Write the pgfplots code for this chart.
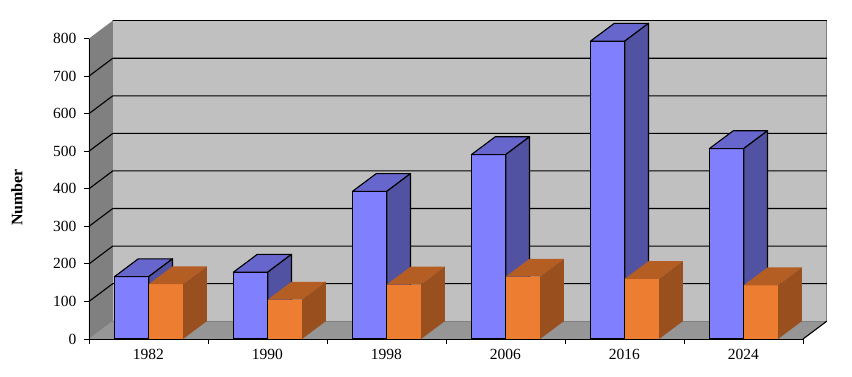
\documentclass[border=0pt]{standalone}
\usepackage{pgfplots}
\pgfplotsset{compat=1.18}
\usepackage{pgfplotstable}
\usepackage{fontspec}
\setmainfont{Liberation Serif}

\definecolor{bluefront}{HTML}{8080FF}
\definecolor{bluetop}{HTML}{6666CC}
\definecolor{blueside}{HTML}{5252A3}
\definecolor{orfront}{HTML}{ED7D31}
\definecolor{ortop}{HTML}{B55E24}
\definecolor{orside}{HTML}{9A4F1F}
\definecolor{backwall}{HTML}{C0C0C0}
\definecolor{sidewall}{HTML}{808080}
\definecolor{floorc}{HTML}{969696}

\pgfplotstableread{
idx year blue orange
0 1982 166 146
1 1990 178 105
2 1998 393 145
3 2006 491 166
4 2016 793 160
5 2024 507 143
}\datatable

\newcommand\dX{0.2}
\newcommand\dY{47.4}
\newcommand\bw{0.288}

\newcommand{\cube}[7]{%
  \pgfplotstablegetelem{#1}{#2}\of\datatable
  \pgfmathsetmacro\hh{\pgfplotsretval}%
  \pgfmathsetmacro\xa{#1+#3}%
  \pgfmathsetmacro\xb{#1+#3+\bw}%
  \pgfmathsetmacro\xc{#1+#3+\dX}%
  \pgfmathsetmacro\xd{#1+#3+\bw+\dX}%
  \pgfmathsetmacro\hb{\hh+\dY}%
  \edef\cubetemp{%
    \noexpand\addplot[mark=none, fill=#4, draw=#7, line width=1.1pt, line join=round] coordinates {(\xa,0) (\xb,0) (\xb,\hh) (\xa,\hh)} -- cycle;
    \noexpand\addplot[mark=none, fill=#5, draw=#7, line width=1.1pt, line join=round] coordinates {(\xa,\hh) (\xb,\hh) (\xd,\hb) (\xc,\hb)} -- cycle;
    \noexpand\addplot[mark=none, fill=#6, draw=#7, line width=1.1pt, line join=round] coordinates {(\xb,0) (\xd,\dY) (\xd,\hb) (\xb,\hh)} -- cycle;
  }\cubetemp
}

\newcommand\gridline[1]{%
  \pgfmathsetmacro\gy{#1+\dY}%
  \edef\gtemp{\noexpand\addplot[mark=none, black, line width=1.1pt] coordinates {(0,#1) (\dX,\gy) (6.2,\gy)};}\gtemp}

\begin{document}
\begin{tikzpicture}
\begin{axis}[
  at={(0,0)}, anchor=origin,
  scale only axis, width=714pt, height=300.5pt,
  xmin=0, xmax=6, ymin=0, ymax=800,
  clip=false, axis on top,
  axis lines=left,
  axis line style={-, black, line width=0.9pt},
  tick style={black, line width=0.9pt},
  tick align=outside, major tick length=5pt,
  xtick={0,1,2,3,4,5,6},
  xticklabels={1982,1990,1998,2006,2016,2024},
  x tick label as interval,
  ytick={0,100,...,800},
  /pgf/number format/assume math mode=true,
  tick label style={font=\fontsize{15.5}{18}\selectfont},
  yticklabel style={xshift=-4pt},
  xticklabel style={yshift=-2pt},
]
% walls
\addplot[mark=none, fill=floorc, draw=none] coordinates {(0,0) (6,0) (6.2,47.4) (0.2,47.4)} -- cycle;
\addplot[mark=none, fill=sidewall, draw=none] coordinates {(0,0) (0.2,47.4) (0.2,847.4) (0,800)} -- cycle;
\addplot[mark=none, fill=backwall, draw=sidewall, line width=0.8pt] coordinates {(0.2,47.4) (6.2,47.4) (6.2,847.4) (0.2,847.4)} -- cycle;
\pgfplotsinvokeforeach{100,200,...,700}{\gridline{#1}}
\addplot[mark=none, black, line width=1.1pt] coordinates {(0.2,847.4) (6.2,847.4)};
\addplot[mark=none, black, line width=1.1pt] coordinates {(6,0) (6.2,47.4)};
% bars
\pgfplotsinvokeforeach{0,...,5}{%
  \cube{#1}{blue}{0.214}{bluefront}{bluetop}{blueside}{black}
  \cube{#1}{orange}{0.502}{orfront}{ortop}{orside}{none}
}
\end{axis}
\node[rotate=90, font=\fontsize{16}{19}\selectfont\bfseries] at (-72pt,141.5pt) {Number};
\pgfresetboundingbox
\path[use as bounding box] (-89pt,-38pt) rectangle (763pt,339pt);
\end{tikzpicture}
\end{document}
